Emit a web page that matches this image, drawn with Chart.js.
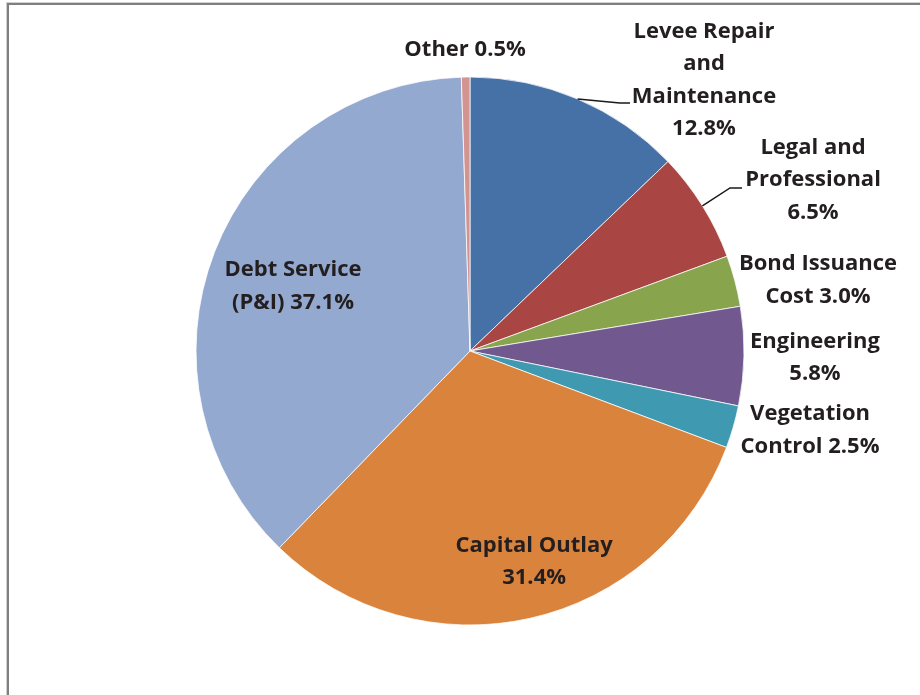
<!DOCTYPE html>
<html>
<head>
<meta charset="utf-8">
<script src="https://cdn.jsdelivr.net/npm/chart.js@4.4.1/dist/chart.umd.min.js"></script>
<style>
  html, body { margin: 0; padding: 0; background: #fff; }
  #wrap { position: relative; width: 920px; height: 695px; overflow: hidden; }
  #frame {
    position: absolute; left: 7px; top: 3px; right: -10px; bottom: -10px;
    border-top: 2px solid #7f7f7f; border-left: 2px solid #7f7f7f;
    box-shadow: -1px -1px 0 #d0d0d0;
  }
  canvas { position: absolute; left: 0; top: 0; }
</style>
</head>
<body>
<div id="wrap">
  <div id="frame"></div>
  <canvas id="budgetPie" width="920" height="695"></canvas>
</div>
<script>
// spending categories, clockwise from 12 o'clock
var categories = ['Levee Repair and Maintenance', 'Legal and Professional', 'Bond Issuance Cost',
    'Engineering', 'Vegetation Control', 'Capital Outlay', 'Debt Service (P&I)', 'Other'];
var shares = [12.8, 6.5, 3.0, 5.8, 2.5, 31.4, 37.1, 0.5];
var sliceColors = ['#4571a7', '#a94644', '#88a44d', '#71588f', '#3f99b1', '#da833c', '#94a9cf', '#d29391'];

// label text, {p} gets the percentage
var labelLines = [
    ['Levee Repair', 'and', 'Maintenance', '{p}'],
    ['Legal and', 'Professional', '{p}'],
    ['Bond Issuance', 'Cost {p}'],
    ['Engineering', '{p}'],
    ['Vegetation', 'Control {p}'],
    ['Capital Outlay', '{p}'],
    ['Debt Service', '(P&I) {p}'],
    ['Other {p}']
];

// label centres, in radius units from the pie centre
var labelAnchors = [
    [0.854, -0.989], [1.252, -0.624], [1.270, -0.259], [1.259, 0.024],
    [1.241, 0.290], [0.234, 0.770], [-0.646, -0.237], [-0.018, -1.099]
];
// leader lines: slice index, elbow point and end x (radius units)
var leaders = [
    { i: 0, elbow: [0.547, -0.905], endX: 0.584 },
    { i: 1, elbow: [0.949, -0.595], endX: 0.993 }
];

var lineGap = 32.5;

var pieLabels = {
    id: 'pieLabels',
    afterDatasetsDraw: function (chart) {
        var g = chart.ctx;
        var arcs = chart.getDatasetMeta(0).data;
        if (!arcs.length) return;
        var cx = arcs[0].x, cy = arcs[0].y, r = arcs[0].outerRadius;

        g.save();
        // leader lines from the slice edge to the label
        g.strokeStyle = '#1a1a1a';
        g.lineWidth = 1.5;
        leaders.forEach(function (ld) {
            var a = arcs[ld.i];
            var mid = (a.startAngle + a.endAngle) / 2;
            g.beginPath();
            g.moveTo(cx + Math.cos(mid) * r, cy + Math.sin(mid) * r);
            g.lineTo(cx + ld.elbow[0] * r, cy + ld.elbow[1] * r);
            g.lineTo(cx + ld.endX * r, cy + ld.elbow[1] * r);
            g.stroke();
        });

        g.fillStyle = '#231f20';
        g.font = 'bold 22px "Open Sans", Lato, sans-serif';
        g.textAlign = 'center';
        g.textBaseline = 'middle';
        labelLines.forEach(function (lines, i) {
            var pct = shares[i].toFixed(1) + '%';
            var x = cx + labelAnchors[i][0] * r;
            var y0 = cy + labelAnchors[i][1] * r - (lines.length - 1) * lineGap / 2;
            lines.forEach(function (ln, k) {
                g.fillText(ln.replace('{p}', pct), x, y0 + k * lineGap);
            });
        });
        g.restore();
    }
};

new Chart(document.getElementById('budgetPie').getContext('2d'), {
    type: 'pie',
    data: {
        labels: categories,
        datasets: [{
            data: shares,
            backgroundColor: sliceColors,
            borderColor: 'rgba(255,255,255,0.75)',
            borderWidth: 1,
            hoverOffset: 0,
            radius: 274
        }]
    },
    options: {
        responsive: false,
        animation: false,
        layout: { padding: { top: 77, bottom: 70, left: 196, right: 176 } },
        plugins: {
            legend: { display: false },
            tooltip: { enabled: false }
        }
    },
    plugins: [pieLabels]
});
</script>
</body>
</html>
